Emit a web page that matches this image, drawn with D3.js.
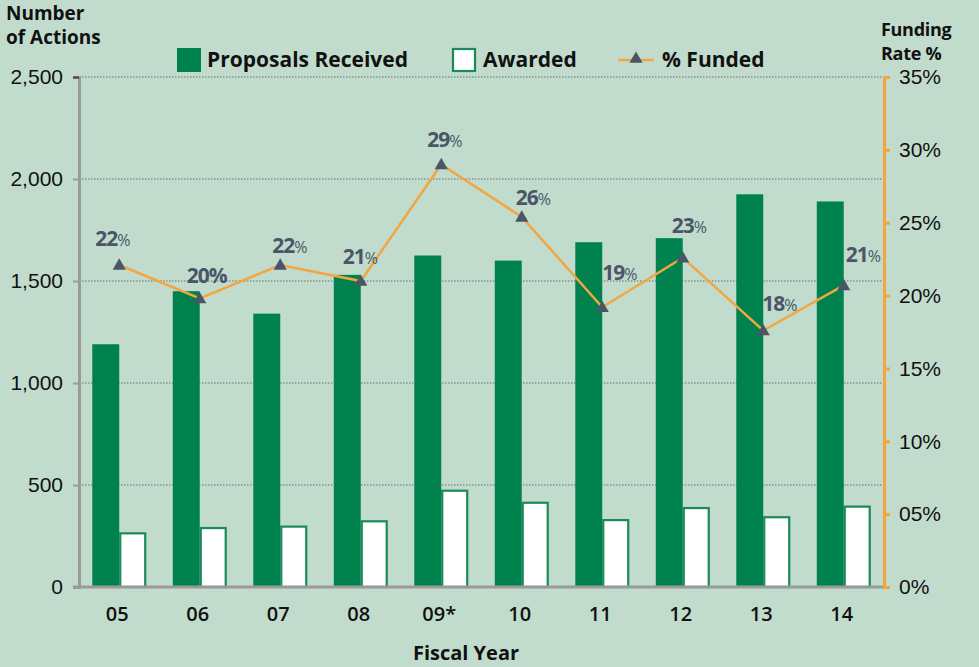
<!DOCTYPE html>
<html>
<head>
<meta charset="utf-8">
<script src="https://cdn.jsdelivr.net/npm/d3@7"></script>
<style>
    body { margin: 0; background: #c1dccd; }
    svg { display: block; font-family: "Open Sans", sans-serif; }
</style>
</head>
<body>
<svg id="svg" width="979" height="667"></svg>
<script>
var years = ["05", "06", "07", "08", "09*", "10", "11", "12", "13", "14"];
var proposals = [1190, 1450, 1340, 1530, 1625, 1600, 1690, 1710, 1925, 1890];
var awarded = [263, 289, 296, 322, 472, 413, 328, 387, 342, 394];
var fundedRate = [22.1, 19.8, 22.1, 21.0, 29.0, 25.4, 19.2, 22.6, 17.6, 20.7];
var fundedLabels = ["22", "20", "22", "21", "29", "26", "19", "23", "18", "21"];
var countTicks = [0, 500, 1000, 1500, 2000, 2500];
var rateTicks = [0, 5, 10, 15, 20, 25, 30, 35];
var rateTickLabels = ["0%", "05%", "10%", "15%", "20%", "25%", "30%", "35%"];

window.onload = function () {
    var svg = d3.select("svg");
    var left = 79, right = 884, top = 77, bottom = 587;
    var green = "#00824f", orange = "#f3a640", slate = "#4a5668";

    var x = d3.scaleBand().domain(years).range([left, right]).padding(0);
    var sub = d3.scaleBand().domain(["p", "a"])
        .range([x.bandwidth() * 0.165, x.bandwidth() * 0.835]).padding(0);
    var y = d3.scaleLinear().domain([0, 2500]).range([bottom, top]);
    var yRate = d3.scaleLinear().domain([0, 35]).range([bottom, top]);

    // dotted gridlines
    svg.append("g").selectAll("line")
        .data(countTicks.slice(1))
        .enter().append("line")
        .attr("x1", left).attr("x2", right)
        .attr("y1", function (d) { return y(d); })
        .attr("y2", function (d) { return y(d); })
        .attr("stroke", "#66716b")
        .attr("stroke-width", 1)
        .attr("stroke-dasharray", "1.5,1.5");

    // bars
    var groups = svg.append("g").selectAll("g")
        .data(years)
        .enter().append("g")
        .attr("transform", function (d) { return "translate(" + x(d) + ",0)"; });

    groups.append("rect")
        .attr("x", sub("p"))
        .attr("y", function (d, i) { return y(proposals[i]); })
        .attr("width", sub.bandwidth())
        .attr("height", function (d, i) { return bottom - y(proposals[i]); })
        .attr("fill", green);

    groups.append("rect")
        .attr("x", sub("a") + 1)
        .attr("y", function (d, i) { return y(awarded[i]); })
        .attr("width", sub.bandwidth() - 2)
        .attr("height", function (d, i) { return bottom - y(awarded[i]); })
        .attr("fill", "#ffffff")
        .attr("stroke", "#1a8a58")
        .attr("stroke-width", 2.2);

    // left axis
    var yAxis = d3.axisLeft(y).tickValues(countTicks).tickSizeOuter(0).tickSize(6).tickPadding(10)
        .tickFormat(d3.format(","));
    var gy = svg.append("g")
        .attr("transform", "translate(" + left + ",0)")
        .call(yAxis);
    gy.select(".domain").attr("stroke", "#9a9a9a").attr("stroke-width", 3);
    gy.selectAll(".tick line").attr("stroke", function (d) { return d === 2500 ? "#444" : "#9a9a9a"; })
        .attr("stroke-width", 2);
    gy.selectAll(".tick text").attr("font-size", 21).attr("font-weight", 500).attr("fill", "#111");

    // bottom axis line + labels
    svg.append("line")
        .attr("x1", left - 6).attr("x2", right)
        .attr("y1", bottom).attr("y2", bottom)
        .attr("stroke", "#9a9a9a").attr("stroke-width", 3);

    svg.append("g").selectAll("text")
        .data(years)
        .enter().append("text")
        .attr("x", function (d) { return x(d) + x.bandwidth() / 2 - 2; })
        .attr("y", 621)
        .attr("text-anchor", "middle")
        .attr("font-size", 20)
        .attr("font-weight", 600)
        .attr("fill", "#111")
        .text(function (d) { return d; });

    // right axis
    var rAxis = d3.axisRight(yRate).tickValues(rateTicks).tickSizeOuter(0).tickSize(6).tickPadding(9)
        .tickFormat(function (d, i) { return rateTickLabels[i]; });
    var gr = svg.append("g")
        .attr("transform", "translate(" + right + ",0)")
        .call(rAxis);
    gr.select(".domain").attr("stroke", orange).attr("stroke-width", 3);
    gr.selectAll(".tick line").attr("stroke", orange).attr("stroke-width", 3);
    gr.selectAll(".tick text").attr("font-size", 21).attr("font-weight", 500).attr("fill", "#111");

    // funded line
    var line = d3.line()
        .x(function (d, i) { return x(years[i]) + x.bandwidth() / 2; })
        .y(function (d) { return yRate(d); });

    svg.append("path")
        .datum(fundedRate)
        .attr("d", line)
        .attr("fill", "none")
        .attr("stroke", orange)
        .attr("stroke-width", 2.5);

    svg.append("g").selectAll("path")
        .data(fundedRate)
        .enter().append("path")
        .attr("d", d3.symbol().type(d3.symbolTriangle).size(75))
        .attr("transform", function (d, i) {
            return "translate(" + (x(years[i]) + x.bandwidth() / 2) + "," + (yRate(d) + 1) + ")";
        })
        .attr("fill", slate);

    // hand placed labels, offsets from the point
    var labelDx = [-24, -13, -8, -18, -14, -6, 0, -11, -1, 2];
    var labelDy = [-19, -15, -12, -17, -17, -12, -27, -25, -20, -23];
    var labels = svg.append("g").selectAll("text")
        .data(fundedRate)
        .enter().append("text")
        .attr("x", function (d, i) { return x(years[i]) + x.bandwidth() / 2 + labelDx[i]; })
        .attr("y", function (d, i) { return yRate(d) + labelDy[i]; })
        .attr("fill", slate)
        .attr("letter-spacing", -1);
    labels.append("tspan")
        .attr("font-size", 21)
        .attr("font-weight", 700)
        .text(function (d, i) { return fundedLabels[i]; });
    labels.append("tspan")
        .attr("font-size", function (d, i) { return i === 1 ? 21 : 16; })
        .attr("font-weight", function (d, i) { return i === 1 ? 700 : 400; })
        .text("%");

    // titles
    var t = svg.append("text").attr("font-size", 19).attr("font-weight", 700).attr("fill", "#111");
    t.append("tspan").attr("x", 6).attr("y", 20).text("Number");
    t.append("tspan").attr("x", 6).attr("y", 44).text("of Actions");

    var t2 = svg.append("text").attr("font-size", 18).attr("font-weight", 700).attr("fill", "#111")
        .attr("letter-spacing", -0.3);
    t2.append("tspan").attr("x", 881).attr("y", 36).text("Funding");
    t2.append("tspan").attr("x", 881).attr("y", 60).text("Rate %");

    svg.append("text")
        .attr("x", 466).attr("y", 660)
        .attr("text-anchor", "middle")
        .attr("font-size", 20).attr("font-weight", 700).attr("fill", "#111")
        .text("Fiscal Year");

    // legend
    var legend = svg.append("g");
    legend.append("rect").attr("x", 177).attr("y", 48).attr("width", 24).attr("height", 24).attr("fill", green);
    legend.append("text").attr("x", 207).attr("y", 67).attr("font-size", 21).attr("font-weight", 700)
        .attr("fill", "#111").text("Proposals Received");
    legend.append("rect").attr("x", 453).attr("y", 49).attr("width", 22).attr("height", 22)
        .attr("fill", "#fff").attr("stroke", "#1a8a58").attr("stroke-width", 2.2);
    legend.append("text").attr("x", 483).attr("y", 67).attr("font-size", 21).attr("font-weight", 700)
        .attr("fill", "#111").text("Awarded");
    legend.append("line").attr("x1", 618).attr("x2", 654).attr("y1", 60).attr("y2", 60)
        .attr("stroke", orange).attr("stroke-width", 2.5);
    legend.append("path").attr("d", d3.symbol().type(d3.symbolTriangle).size(75))
        .attr("transform", "translate(636,59)").attr("fill", slate);
    legend.append("text").attr("x", 662).attr("y", 67).attr("font-size", 21).attr("font-weight", 700)
        .attr("fill", "#111").text("% Funded");
};
</script>
</body>
</html>
